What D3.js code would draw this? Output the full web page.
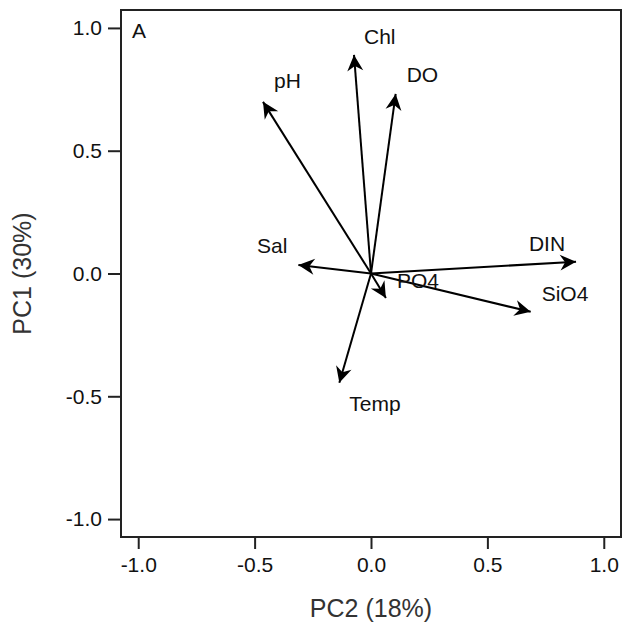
<!DOCTYPE html>
<html>
<head>
<meta charset="utf-8">
<script src="https://cdn.jsdelivr.net/npm/d3@7"></script>
<style>
  html, body { margin: 0; padding: 0; background: #fff; }
  svg { display: block; font-family: "Liberation Sans", Arial, sans-serif; }
</style>
</head>
<body>
<svg id="chart" width="623" height="627"></svg>
<script>
// Data: variable loadings (PC2 on x, PC1 on y)
const variables = ["pH", "Chl", "DO", "Sal", "DIN", "SiO4", "PO4", "Temp"];
const pc2 = [-0.464, -0.073, 0.106, -0.312, 0.881, 0.686, 0.064, -0.136];
const pc1 = [0.699, 0.890, 0.731, 0.035, 0.048, -0.156, -0.100, -0.445];
const tickValues = [-1.0, -0.5, 0.0, 0.5, 1.0];
const xTitle = "PC2 (18%)";
const yTitle = "PC1 (30%)";
const panelLabel = "A";

// label offsets (pixels, relative to arrow tip): [dx, dy, anchor]
const labelOffsets = {
  pH: [11, -14, "start"],
  Chl: [10, -11, "start"],
  DO: [11, -12, "start"],
  Sal: [-11, -12, "end"],
  DIN: [-11, -11, "end"],
  SiO4: [11, -11, "start"],
  PO4: [11, -10, "start"],
  Temp: [10, 28, "start"]
};

const svg = d3.select("#chart");
const mLeft = 121, mRight = 621, mTop = 10, mBottom = 537;
const x = d3.scaleLinear().domain([-1.074, 1.074]).range([mLeft, mRight]);
const y = d3.scaleLinear().domain([-1.073, 1.073]).range([mBottom, mTop]);

const defs = svg.append("defs");
defs.append("marker")
  .attr("id", "arrow")
  .attr("markerUnits", "userSpaceOnUse")
  .attr("viewBox", "-17 -9 18 18")
  .attr("markerWidth", 18)
  .attr("markerHeight", 18)
  .attr("refX", 0).attr("refY", 0)
  .attr("orient", "auto")
  .append("path")
  .attr("d", "M0,0 L-16,-8 L-11,0 L-16,8 Z")
  .attr("fill", "#000");

// axes
const fmt = d => d3.format(".1f")(d).replace("\u2212", "-");
const xAxis = d3.axisBottom(x).tickValues(tickValues).tickFormat(fmt).tickSize(12).tickPadding(8);
const yAxis = d3.axisLeft(y).tickValues(tickValues).tickFormat(fmt).tickSize(13).tickPadding(6);

const gx = svg.append("g").attr("transform", `translate(0,${mBottom})`).call(xAxis);
const gy = svg.append("g").attr("transform", `translate(${mLeft},0)`).call(yAxis);
[gx, gy].forEach(g => {
  g.select(".domain").remove();
  g.selectAll(".tick line").attr("stroke", "#222").attr("stroke-width", 2);
  g.selectAll(".tick text").attr("font-size", 21).attr("fill", "#111")
    .attr("font-family", "'Liberation Sans', Arial, sans-serif");
});

// frame
svg.append("rect")
  .attr("x", mLeft).attr("y", mTop)
  .attr("width", mRight - mLeft).attr("height", mBottom - mTop)
  .attr("fill", "none").attr("stroke", "#222").attr("stroke-width", 2);

// vectors
const data = variables.map((v, i) => ({ name: v, px: pc2[i], py: pc1[i] }));
svg.append("g").selectAll("line").data(data).join("line")
  .attr("x1", x(0)).attr("y1", y(0))
  .attr("x2", d => x(d.px)).attr("y2", d => y(d.py))
  .attr("stroke", "#000").attr("stroke-width", 2)
  .attr("marker-end", "url(#arrow)");

svg.append("g").selectAll("text").data(data).join("text")
  .attr("x", d => x(d.px) + labelOffsets[d.name][0])
  .attr("y", d => y(d.py) + labelOffsets[d.name][1])
  .attr("text-anchor", d => labelOffsets[d.name][2])
  .attr("font-size", 21).attr("fill", "#111")
  .text(d => d.name);

// panel label
svg.append("text").attr("x", mLeft + 11).attr("y", 38)
  .attr("font-size", 21).attr("fill", "#111").text(panelLabel);

// axis titles
svg.append("text").attr("x", x(0)).attr("y", 617)
  .attr("text-anchor", "middle").attr("font-size", 25).attr("fill", "#333").text(xTitle);
svg.append("text").attr("transform", `translate(31,${y(0)}) rotate(-90)`)
  .attr("text-anchor", "middle").attr("font-size", 25).attr("fill", "#333").text(yTitle);
</script>
</body>
</html>
